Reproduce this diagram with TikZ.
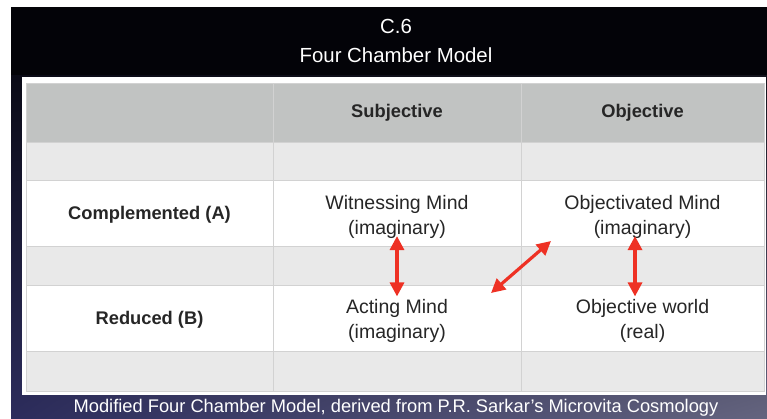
\documentclass[tikz,border=0pt]{standalone}
\usepackage{fontspec}
\setmainfont{Liberation Sans}
\usetikzlibrary{arrows.meta,shadings}
\definecolor{hdrgray}{HTML}{C1C3C2}
\definecolor{rowgray}{HTML}{E9E9E9}
\definecolor{gridgray}{HTML}{D2D2D2}
\definecolor{arrowred}{HTML}{EE3124}
\definecolor{bgbl}{HTML}{2C2C5C}
\definecolor{bgbr}{HTML}{64647F}
\definecolor{bgtop}{HTML}{030308}
\tikzset{
  cell/.style={align=center, inner sep=1pt, outer sep=0pt, font=\fontsize{19.5}{25}\selectfont, text=black!85},
  hdr/.style={inner sep=1pt, outer sep=0pt, font=\fontsize{18.3}{22}\selectfont\bfseries, text=black!85},
  titletext/.style={inner sep=0pt, anchor=base, text=white, font=\fontsize{20.4}{24}\selectfont},
  captext/.style={inner sep=0pt, anchor=base, text=white, font=\fontsize{18.3}{22}\selectfont},
  redarrow/.style={arrowred, line width=3.2pt, {Triangle[length=14pt,width=14pt]}-{Triangle[length=14pt,width=14pt]}},
  grid/.style={gridgray, line width=1pt}
}
\begin{document}
\begin{tikzpicture}[x=1pt,y=-1pt]
\useasboundingbox (0,0) rectangle (767,418);
\fill[white] (0,0) rectangle (767,418);
% background
\shade[upper left=bgtop, upper right=bgtop, lower left=bgbl, lower right=bgbr] (11,7) rectangle (767,418);
\fill[bgtop] (11,7) rectangle (767,75);
% titles
\node[titletext] (t1) at (396,33) {C.6};
\node[titletext] (t2) at (396,62) {Four Chamber Model};
% panel
\fill[white] (22,77) rectangle (766,395);
% table rows
\fill[hdrgray] (26,83) rectangle (764,142);
\fill[rowgray] (26,142) rectangle (764,180);
\fill[white] (26,180) rectangle (764,246);
\fill[rowgray] (26,246) rectangle (764,285);
\fill[white] (26,285) rectangle (764,351);
\fill[rowgray] (26,351) rectangle (764,391);
% grid
\draw[grid] (26,83) rectangle (764,391);
\foreach \yy in {142,180,246,285,351} \draw[grid] (26,\yy) -- (764,\yy);
\foreach \xx in {273,521} \draw[grid] (\xx,83) -- (\xx,391);
% headers
\node[hdr] (hs) at (397,113) {Subjective};
\node[hdr] (ho) at (642.5,113) {Objective};
\node[hdr] (ra) at (149.5,215) {Complemented (A)};
\node[hdr] (rb) at (149.5,320) {Reduced (B)};
% cells
\node[cell] (wm) at (397,216.5) {Witnessing Mind\\(imaginary)};
\node[cell] (om) at (642.5,216.5) {Objectivated Mind\\(imaginary)};
\node[cell] (am) at (397,321) {Acting Mind\\(imaginary)};
\node[cell] (ow) at (642.5,321) {Objective world\\(real)};
% arrows
\draw[redarrow] ([yshift=3pt]wm.south) -- ([yshift=2pt]am.north);
\draw[redarrow] ([xshift=-7.5pt,yshift=3pt]om.south) -- ([xshift=-7.5pt,yshift=2pt]ow.north);
\coordinate (d1) at (491,293);
\coordinate (d2) at (551,241);
\draw[redarrow] (d1) -- (d2);
% caption
\node[captext] (cap) at (396,412) {Modified Four Chamber Model, derived from P.R. Sarkar's Microvita Cosmology};
\end{tikzpicture}
\end{document}
